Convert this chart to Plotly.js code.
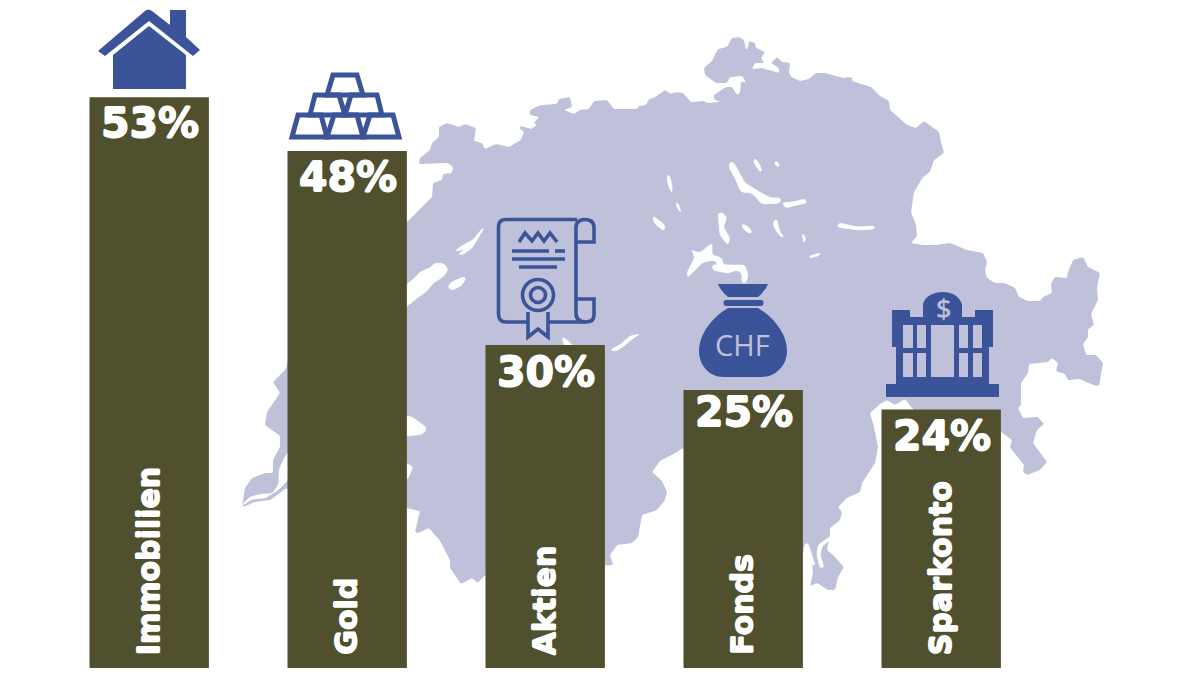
<!DOCTYPE html>
<html>
<head>
<meta charset="utf-8">
<script src="https://cdn.plot.ly/plotly-3.0.1.min.js"></script>
<style>html,body{margin:0;padding:0;background:#fff}#chart{width:1200px;height:675px}</style>
</head>
<body>
<div id="chart"></div>
<script>
// ---- chart data ----
const categories = ["Immobilien", "Gold", "Aktien", "Fonds", "Sparkonto"];
const barValues = [53, 48, 30, 25.8, 24];
const percentLabels = ["53%", "48%", "30%", "25%", "24%"];
const labelDrop = [26, 26, 27, 22, 26];

// ---- palette ----
const barColor = "#50502e", mapColor = "#bfc0d9", iconColor = "#3b5499";

// ---- background map of Switzerland (page pixels) ----
const mapOutline = [
[242,506],[245,488],[252,478],[265,473],[273,473],[273,460],[280,447],[280,436],[265,425],[267,412],[280,393],[273,382],[286,369],
[300,300],[404,225],[412,217],[432,197],[433,183],[442,180],[443,174],[452,173],[453,167],[448,163],[419,164],[420,158],[430,150],[432,143],[439,137],[439,127],[447,123],[459,127],[465,124],[476,128],[474,141],[482,143],[485,149],[496,144],[509,147],[521,140],[524,132],[519,128],[521,126],[531,129],[537,125],[534,123],[539,117],[530,115],[530,110],[541,105],[557,104],[559,99],[570,97],[572,107],[564,110],[574,114],[580,110],[589,109],[594,101],[607,100],[614,109],[637,109],[639,106],[646,105],[649,99],[654,98],[665,90],[671,94],[675,92],[683,93],[691,102],[704,101],[707,103],[720,102],[714,99],[714,95],[726,87],[732,87],[737,95],[740,93],[741,82],[746,82],[742,76],[730,77],[727,83],[716,83],[705,75],[704,68],[712,61],[718,49],[727,47],[732,38],[739,37],[744,40],[746,50],[748,48],[749,41],[755,43],[756,48],[765,52],[761,58],[764,63],[755,63],[752,69],[762,68],[779,73],[779,68],[771,63],[777,57],[782,62],[790,63],[789,72],[791,77],[800,81],[809,79],[816,73],[825,73],[843,78],[852,77],[852,81],[871,87],[880,96],[889,101],[890,110],[907,125],[916,128],[924,121],[939,132],[941,142],[944,153],[934,160],[930,172],[923,177],[914,192],[911,212],[916,225],[917,236],[911,243],[923,245],[936,245],[950,243],
[967,250],[983,253],[987,262],[985,270],[987,278],[995,283],[1005,283],[1015,288],[1019,297],[1028,301],[1040,301],[1043,297],[1052,293],[1051,283],[1055,277],[1067,278],[1068,272],[1073,260],[1083,257],[1088,267],[1100,273],[1097,287],[1098,300],[1091,314],[1094,325],[1088,329],[1088,337],[1083,344],[1086,355],[1096,355],[1103,363],[1099,386],[1093,385],[1080,379],[1068,380],[1065,374],[1056,371],[1058,363],[1052,358],[1048,362],[1029,364],[1028,373],[1021,383],[1021,405],[1018,408],[1023,418],[1038,417],[1044,424],[1037,430],[1033,443],[1047,462],[1040,470],[1027,475],[1023,472],[1024,465],[1012,450],[1010,447],[1012,440],[1000,431],
[960,430],[925,420],[912,408],[905,399],[895,405],[887,400],[880,404],[870,413],[874,427],[878,447],[875,463],[862,483],[860,492],[847,498],[838,507],[842,512],[840,520],[830,528],[830,535],[827,550],[833,555],[844,567],[838,577],[835,590],[828,590],[817,583],[810,586],[813,573],[812,563],[808,555],[800,550],
[690,450],[683,448],[677,452],[660,461],[652,472],[662,481],[667,492],[665,500],[657,510],[642,515],[638,537],[632,543],[617,545],[610,555],[613,565],[600,566],
[490,575],[485,575],[478,583],[472,578],[461,584],[450,568],[450,560],[440,541],[429,528],[418,533],[415,532],[420,511],[406,508],[400,505],
[290,490],[286,488],[280,493],[270,500],[255,502],[245,506]
];
const lakes = [
[[241,506],[250,497],[262,494],[272,494],[279,484],[279,470],[285,457],[290,450],[290,478],[278,490],[265,498],[252,499]],
[[400,415],[412,417],[427,428],[423,434],[400,437]],
[[400,463],[406,463],[413,467],[407,480],[400,480]],
[[400,290],[406,285],[415,278],[420,272],[430,268],[435,263],[445,264],[448,270],[443,277],[433,283],[427,291],[417,298],[406,307],[400,310]],
[[448,288],[450,283],[463,277],[466,278],[462,285],[453,290]],
[[484,228],[478,238],[472,248],[462,255],[458,254],[466,249],[461,250],[455,251],[463,245],[473,240],[482,229]],
[[839,223],[857,227],[875,226],[874,229],[859,230],[837,227]],
[[730,162],[734,163],[745,183],[761,193],[771,198],[781,198],[780,203],[762,204],[752,193],[741,192],[736,180],[729,167]],
[[782,203],[793,202],[805,199],[807,203],[796,205],[786,208]],
[[754,159],[757,160],[762,170],[760,172],[754,163]],
[[775,161],[779,163],[779,167],[775,165]],
[[667,175],[670,176],[672,187],[672,193],[668,185]],
[[676,202],[679,205],[681,213],[677,208]],
[[653,216],[665,225],[664,231],[654,223]],
[[718,213],[723,213],[727,218],[723,227],[730,238],[728,245],[720,235],[719,223]],
[[742,224],[749,227],[752,233],[748,233],[742,227]],
[[773,222],[777,219],[779,230],[784,238],[779,235],[774,227]],
[[802,233],[806,238],[804,243],[803,238]],
[[809,256],[820,253],[820,255],[811,258]],
[[691,250],[700,253],[712,243],[712,255],[722,258],[723,265],[737,265],[745,265],[748,275],[746,283],[742,283],[742,273],[737,270],[728,273],[713,270],[712,265],[718,265],[715,260],[703,262],[695,270],[688,277],[687,273],[692,263],[695,257]],
[[610,350],[620,345],[630,336],[640,334],[632,339],[624,346],[616,351]],
[[562,337],[570,342],[573,348],[565,348]],
[[831,536],[833,538],[822,546],[820,555],[824,567],[820,568],[817,555],[818,545]],
[[804,553],[812,565],[815,565],[808,543],[804,545]]
];

// ---- helpers: page-pixel path -> paper coordinates ----
const W = 1200, H = 675;
const toPaper = p => p.replace(/(-?[\d.]+),(-?[\d.]+)/g, (m, x, y) => (x / W).toFixed(5) + "," + (1 - y / H).toFixed(5));
// closed polygon whose corners are rounded by at most `radius` pixels
const rounded = (pts, radius) => {
  const n = pts.length;
  const toward = (a, b) => {
    const dx = b[0] - a[0], dy = b[1] - a[1], len = Math.hypot(dx, dy) || 1, t = Math.min(radius, len / 2) / len;
    return [(a[0] + dx * t).toFixed(2), (a[1] + dy * t).toFixed(2)];
  };
  let d = "";
  pts.forEach((p, i) => {
    const a = toward(p, pts[(i + n - 1) % n]), b = toward(p, pts[(i + 1) % n]);
    d += (i ? "L" : "M") + a[0] + "," + a[1] + " Q" + p[0] + "," + p[1] + " " + b[0] + "," + b[1] + " ";
  });
  return d + "Z";
};
const circle = (cx, cy, r) => {
  const k = r * 0.5523;
  return `M${cx - r},${cy} C${cx - r},${cy - k} ${cx - k},${cy - r} ${cx},${cy - r} C${cx + k},${cy - r} ${cx + r},${cy - k} ${cx + r},${cy} C${cx + r},${cy + k} ${cx + k},${cy + r} ${cx},${cy + r} C${cx - k},${cy + r} ${cx - r},${cy + k} ${cx - r},${cy} Z`;
};
const rect = (x0, y0, x1, y1) => `M${x0},${y0} L${x1},${y0} L${x1},${y1} L${x0},${y1} Z`;
const filled = (d, color, layer, lw) => ({type: "path", xref: "paper", yref: "paper", path: toPaper(d), fillcolor: color, line: lw ? {width: lw, color: color} : {width: 0}, layer: layer || "above"});
const stroked = (d, w) => ({type: "path", xref: "paper", yref: "paper", path: toPaper(d), fillcolor: "rgba(0,0,0,0)", line: {color: iconColor, width: w}, layer: "above"});

// ---- icons ----
const house = [
  "M98,51 L145,11 Q148,8 152,11 L170,25 L170,10 L186,10 L186,37 L200,50 L193,56 L149,21 L105,56 Z",
  "M113,55 L149,26 L186,55 L186,89 L113,89 Z"
];
const goldBars = [
  "M292,137 L298,115 L321,115 L327,137 Z", "M327,137 L334,115 L357,115 L363,137 Z", "M363,137 L370,115 L393,115 L399,137 Z",
  "M310,115 L315,95 L339,95 L345,115 Z", "M345,115 L351,95 L377,95 L382,115 Z",
  "M327,95 L333,75 L357,75 L363,95 Z"
];
const scroll = [
  "M577,219.5 L506,219.5 Q498.5,219.5 498.5,227 L498.5,314 Q498.5,322 506,322 L528,322",
  "M548,322 L586,322 Q594,322 594,315 L594,299 L576,299",
  "M576,242 L594,242 L594,228 Q594,219.5 585,219.5 Q576,219.5 576,228 L576,313 Q576,322 586,322",
  "M519,242 L525,233 L532,241 L538,233 L544,241 L550,233 L557,242",
  "M512,251 L549,251", "M555,251 L565,251", "M512,259 L565,259", "M519,267 L557,267",
  "M528,312 L528,337 L538,329 L548,337 L548,312"
];
const moneyBag = [
  "M718,284 L768,284 Q766,290 758,297 L728,297 Q720,290 718,284 Z",
  "M726,300 L761,300 Q763.5,300 763.5,303 Q763.5,306 761,306 L726,306 Q723.5,306 723.5,303 Q723.5,300 726,300 Z",
  "M728,308 L758,308 C775,318 787,335 787,351 C787,366 775,377 762,377 L723,377 C710,377 699,366 699,351 C699,335 711,318 728,308 Z"
];
const bank = [
  rect(886, 384, 999, 397),
  "M892,310 L910,310 L910,317 L923,317 L923,304 C925,296 934,292 943,292 C952,292 959,296 962,304 L962,317 L975,317 L975,310 L993,310 L993,347 L989,347 L989,384 L896,384 L896,347 L892,347 Z " +
    [[903,913],[917,926],[959,968],[973,982]].map(c => rect(c[0], 325, c[1], 348) + " " + rect(c[0], 353, c[1], 377)).join(" ") + " " + rect(931, 325, 954, 377)
];

const shapes = [
  filled(rounded(mapOutline, 1.5), mapColor, "below"),
  ...lakes.map(l => filled(rounded(l, 3), "#ffffff", "below", 0.8)),
  ...house.map(d => filled(d, iconColor)),
  ...goldBars.map(d => stroked(d, 5)),
  ...scroll.map(d => stroked(d, 3.6)),
  stroked(circle(538, 295, 15.5), 3.6),
  stroked(circle(538, 295, 7.5), 3.6),
  ...moneyBag.map(d => filled(d, iconColor)),
  ...bank.map(d => filled(d, iconColor))
];

// ---- text ----
const heavy = "0.7px 0 0 #fff, -0.7px 0 0 #fff, 0 0.7px 0 #fff, 0 -0.7px 0 #fff";
const annotations = [
  ...categories.map((c, i) => ({
    x: c, y: barValues[i], xref: "x", yref: "y", text: percentLabels[i], showarrow: false,
    xanchor: "center", yanchor: "middle", yshift: -labelDrop[i], xshift: 1,
    font: {family: "DejaVu Sans", size: 41, color: "#ffffff", weight: 900, shadow: heavy}
  })),
  ...categories.map(c => ({
    x: c, y: 0, xref: "x", yref: "y", text: c, showarrow: false, textangle: -90,
    xanchor: "center", yanchor: "bottom", yshift: 11, xshift: -1,
    font: {family: "DejaVu Sans", size: 30, color: "#ffffff", weight: 900, shadow: heavy}
  })),
  {xref: "paper", yref: "paper", x: 742 / W, y: 1 - 344 / H, text: "CHF", showarrow: false, xanchor: "center", yanchor: "middle",
   font: {family: "Open Sans", size: 29, color: mapColor}},
  {xref: "paper", yref: "paper", x: 943 / W, y: 1 - 308 / H, text: "$", showarrow: false, xanchor: "center", yanchor: "middle",
   font: {family: "Open Sans", size: 27, color: mapColor, weight: 600}}
];

const traces = [{
  type: "bar", x: categories, y: barValues,
  marker: {color: barColor, line: {width: 0}},
  hoverinfo: "skip"
}];

const layout = {
  width: W, height: H, margin: {l: 0, r: 0, t: 0, b: 0, pad: 0},
  paper_bgcolor: "#ffffff", plot_bgcolor: "rgba(0,0,0,0)",
  showlegend: false, bargap: 0.397,
  xaxis: {type: "category", categories: categories, range: [-0.7535, 5.3071], visible: false, fixedrange: true},
  yaxis: {range: [-0.65, 62.02], visible: false, fixedrange: true, zeroline: false},
  shapes: shapes, annotations: annotations
};

Plotly.newPlot("chart", traces, layout, {displayModeBar: false, staticPlot: true});
</script>
</body>
</html>
